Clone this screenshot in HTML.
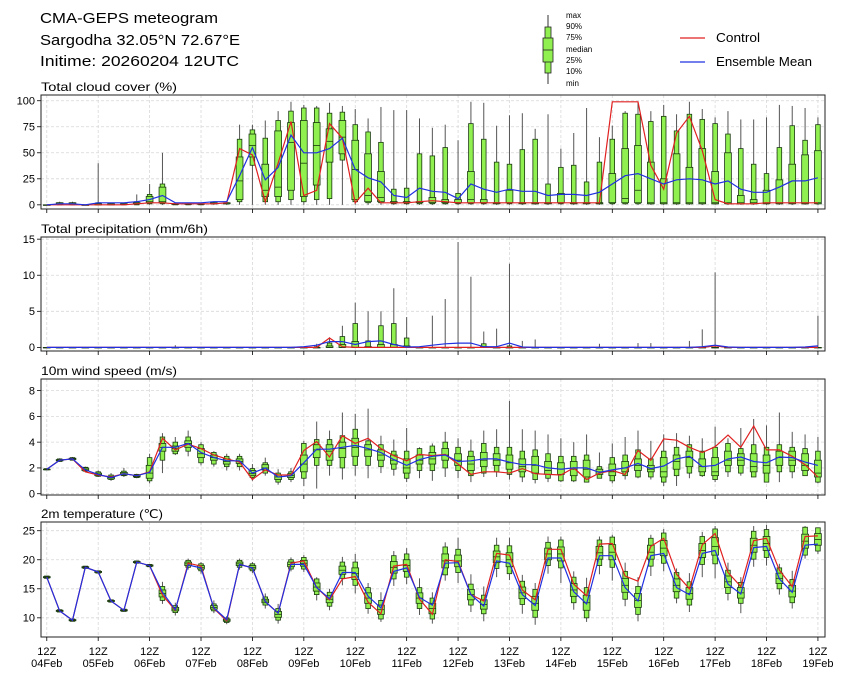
<!DOCTYPE html>
<html><head><meta charset="utf-8"><title>CMA-GEPS meteogram</title>
<style>
html,body{margin:0;padding:0;background:#fff;}
svg{display:block;font-family:"Liberation Sans","DejaVu Sans",sans-serif;}
</style></head>
<body>
<svg id="chart" width="845" height="681" viewBox="0 0 845 681" xmlns="http://www.w3.org/2000/svg">
  <g>
    <text x="40" y="23" font-size="15" fill="#000" textLength="178" lengthAdjust="spacingAndGlyphs">CMA-GEPS meteogram</text>
    <text x="40" y="45" font-size="15" fill="#000" textLength="200" lengthAdjust="spacingAndGlyphs">Sargodha 32.05°N 72.67°E</text>
    <text x="40" y="66" font-size="15" fill="#000" textLength="199" lengthAdjust="spacingAndGlyphs">Initime: 20260204 12UTC</text>
  </g>
  <g>
    <line x1="548" y1="15" x2="548" y2="84" stroke="#333" stroke-width="1"/>
    <rect x="545" y="27" width="6" height="46" fill="#90f050" stroke="#222" stroke-width="0.8"/>
    <rect x="543" y="38" width="10" height="24" fill="#90f050" stroke="#222" stroke-width="0.8"/>
    <line x1="543" y1="50" x2="553" y2="50" stroke="#222" stroke-width="0.8"/>
    <g font-size="8" fill="#000">
      <text x="566" y="18">max</text>
      <text x="566" y="29">90%</text>
      <text x="566" y="40">75%</text>
      <text x="566" y="52">median</text>
      <text x="566" y="63">25%</text>
      <text x="566" y="74">10%</text>
      <text x="566" y="86">min</text>
    </g>
  </g>
  <g>
    <g>
      <line x1="680" y1="38" x2="705" y2="38" stroke="#e02020" stroke-width="1.3"/>
      <text x="716" y="42" font-size="12.5" textLength="44" lengthAdjust="spacingAndGlyphs">Control</text>
    </g>
    <g>
      <line x1="680" y1="62" x2="705" y2="62" stroke="#2030e0" stroke-width="1.3"/>
      <text x="716" y="66" font-size="12.5" textLength="96" lengthAdjust="spacingAndGlyphs">Ensemble Mean</text>
    </g>
  </g>
  <g id="panels"></g>
</svg>
<script>
// ---------- Data (index = 6-hourly step from 2026-02-04 12Z) ----------
const dayLabels = ["04Feb","05Feb","06Feb","07Feb","08Feb","09Feb","10Feb","11Feb","12Feb","13Feb","14Feb","15Feb","16Feb","17Feb","18Feb","19Feb"];

// Total cloud cover (%)
const cMn  = [0,0,0,0,0,0,0,0,0,0,0,0,0,0,0,0,0,0,0,0,0,0,0,0,0,0,0,0,0,0,0,0,0,0,0,0,0,0,0,0,0,0,0,0,0,0,0,0,0,0,0,0,0,0,0,0,0,0,0,0,0];
const cP10 = [0,0,0,0,0,0,0,0,1,1,0,0,0,1,1,3,38,3,3,5,3,5,6,43,3,2,2,1,1,1,1,1,1,1,1,1,1,1,1,1,1,1,1,1,1,1,1,1,1,1,1,1,1,1,1,1,1,1,1,1,1];
const cP25 = [0,1,1,0,0,0,1,1,2,2,1,1,1,1,1,5,46,8,8,14,8,19,41,49,5,3,3,2,2,2,2,2,2,2,2,1,2,1,1,1,2,1,1,1,2,2,2,1,1,1,1,1,1,1,1,1,1,1,1,1,1];
const cMed = [0,1,1,0,0,1,1,1,3,3,1,1,1,1,1,23,57,14,17,60,40,57,61,65,34,9,7,3,3,3,2,2,2,5,2,2,2,2,2,2,2,2,2,2,2,6,14,2,2,2,2,2,2,2,2,2,2,2,2,2,2];
const cP75 = [0,2,2,0,1,1,1,2,8,17,1,1,1,2,2,46,68,39,71,79,81,79,73,81,62,49,32,3,3,3,7,5,5,32,5,2,14,2,2,2,11,2,2,2,30,54,57,41,25,49,36,54,32,50,9,5,14,24,39,48,52];
const cP90 = [0,2,2,0,2,1,1,3,10,20,1,1,1,2,2,63,72,64,81,90,93,93,88,89,77,70,60,15,16,49,47,55,11,78,63,41,39,53,63,20,36,38,22,41,63,88,87,80,85,71,87,82,78,68,54,39,30,55,76,62,77];
const cMx  = [0,3,3,0,40,1,1,10,20,50,2,2,2,3,3,77,77,81,90,99,96,95,98,95,92,83,94,91,91,83,74,77,62,99,98,76,86,88,73,87,54,69,93,65,76,90,99,90,96,87,99,92,84,90,82,82,84,96,95,93,84];
const cEns = [0,1,1,0,2,2,2,3,5,9,2,2,2,3,3,28,55,24,36,67,50,50,54,64,34,26,22,9,7,16,13,12,6,20,15,12,15,13,13,9,10,10,9,12,20,28,30,25,20,24,25,24,20,23,15,12,12,17,23,23,26];
const cCtl = [0,0,0,0,0,0,0,1,2,2,1,1,1,1,2,54,48,3,40,80,9,14,78,64,2,16,2,2,2,3,4,3,2,2,2,2,2,2,2,2,2,2,2,2,99,99,99,38,15,69,85,52,5,1,1,1,2,2,2,2,2];

// Total precipitation (mm/6h)
const pMn  = [0,0,0,0,0,0,0,0,0,0,0,0,0,0,0,0,0,0,0,0,0,0,0,0,0,0,0,0,0,0,0,0,0,0,0,0,0,0,0,0,0,0,0,0,0,0,0,0,0,0,0,0,0,0,0,0,0,0,0,0,0];
const pP10 = [0,0,0,0,0,0,0,0,0,0,0,0,0,0,0,0,0,0,0,0,0,0,0,0,0,0,0,0,0,0,0,0,0,0,0,0,0,0,0,0,0,0,0,0,0,0,0,0,0,0,0,0,0,0,0,0,0,0,0,0,0];
const pP25 = [0,0,0,0,0,0,0,0,0,0,0,0,0,0,0,0,0,0,0,0,0,0,0,0,0,0,0,0,0,0,0,0,0,0,0,0,0,0,0,0,0,0,0,0,0,0,0,0,0,0,0,0,0,0,0,0,0,0,0,0,0];
const pMed = [0,0,0,0,0,0,0,0,0,0,0,0,0,0,0,0,0,0,0,0,0,0,0,0,0,0,0,0,0,0,0,0,0,0,0,0,0,0,0,0,0,0,0,0,0,0,0,0,0,0,0,0,0,0,0,0,0,0,0,0,0];
const pP75 = [0,0,0,0,0,0,0,0,0,0,0,0,0,0,0,0,0,0,0,0,0,0,0.2,0.4,0.8,0.1,0.4,0.4,0.2,0,0,0,0,0,0.1,0,0,0,0,0,0,0,0,0,0,0,0,0,0,0,0,0,0,0,0,0,0,0,0,0,0];
const pP90 = [0,0,0,0,0,0,0,0,0,0,0,0,0,0,0,0,0,0,0,0,0,0.1,0.6,1.5,3.3,0.9,3.0,3.3,1.3,0,0,0,0,0,0.5,0,0.2,0,0,0,0,0,0,0,0,0,0,0,0,0,0,0,0,0,0,0,0,0,0,0,0];
const pMx  = [0,0,0,0,0,0,0,0,0,0,0.3,0,0,0,0,0,0,0,0,0,0,0.5,1.4,3.0,6.2,5.0,5.0,8.2,4.2,0,4.4,6.7,14.6,9.8,2.2,2.6,11.6,0.9,1.1,0,0,0,0,0.5,0,0,0.6,0.6,0,0,0.9,2.5,10.4,0,0,0,0,0,0,0,4.4];
const pEns = [0,0,0,0,0,0,0,0,0,0,0,0,0,0,0,0,0,0,0,0,0.1,0.3,0.8,0.8,0.4,0.8,0.9,0.4,0.05,0.1,0.3,0.5,0.6,0.6,0.1,0.1,0.6,0.05,0,0,0,0,0,0,0,0,0,0,0,0,0,0.1,0.3,0.05,0,0,0,0,0,0.05,0.2];
const pCtl = [0,0,0,0,0,0,0,0,0,0,0,0,0,0,0,0,0,0,0,0,0,0,1.3,0.1,0,0,0,0,0,0,0,0,0,0,0,0,0,0,0,0,0,0,0,0,0,0,0,0,0,0,0,0,0.2,0,0,0,0,0,0,0,0];

// 10m wind speed (m/s)
const wMn  = [1.85,2.5,2.6,1.7,1.3,1.0,1.3,1.2,0.8,1.6,3.0,2.9,2.2,2.1,1.8,1.8,1.0,1.4,0.7,0.9,0.6,0.4,1.4,1.1,1.4,1.2,1.6,1.4,0.9,1.2,1.0,1.3,1.2,0.9,1.3,1.3,1.1,0.9,0.8,0.9,0.9,0.9,1.3,1.5,0.8,1.1,1.2,1.1,0.6,0.6,1.2,1.3,0.9,1.3,1.4,1.3,1.0,0.9,1.2,1.4,0.8];
const wP10 = [1.85,2.5,2.6,1.75,1.35,1.1,1.4,1.25,1.0,2.6,3.1,3.3,2.4,2.3,2.1,2.1,1.25,1.6,0.9,1.1,1.2,2.2,2.2,2.0,2.2,2.2,2.1,1.9,1.2,1.8,1.8,2.0,1.8,1.4,1.6,1.7,1.5,1.3,1.1,1.2,1.0,1.0,0.9,1.2,1.0,1.4,1.3,1.3,0.9,1.4,1.6,1.4,1.1,1.7,1.6,1.3,0.9,1.7,1.7,1.4,0.9];
const wP25 = [1.9,2.55,2.65,1.8,1.4,1.15,1.45,1.3,1.2,3.3,3.3,3.6,2.8,2.6,2.3,2.35,1.4,1.85,1.1,1.25,1.7,2.8,2.6,2.8,2.9,2.9,2.6,2.3,1.6,2.3,2.3,2.6,2.2,1.8,2.1,2.2,1.9,1.7,1.6,1.5,1.5,1.4,1.3,1.5,1.4,1.7,1.8,1.7,1.3,1.9,2.1,1.7,1.4,2.2,2.2,1.7,1.6,2.2,2.2,1.8,1.3];
const wMed = [1.9,2.6,2.7,1.9,1.5,1.25,1.55,1.35,1.6,3.6,3.5,3.9,3.1,2.8,2.5,2.5,1.55,2.0,1.3,1.4,2.3,3.4,3.3,3.5,3.6,3.4,3.0,2.6,2.0,2.6,2.7,3.0,2.6,2.3,2.6,2.6,2.4,2.1,2.2,1.8,1.9,1.9,1.9,1.7,1.7,2.0,2.2,1.9,1.7,2.5,2.8,2.1,1.7,2.6,2.6,2.1,2.2,2.8,2.6,2.2,1.6];
const wP75 = [1.9,2.65,2.75,2.0,1.6,1.35,1.65,1.45,2.2,3.9,3.7,4.1,3.5,3.0,2.7,2.7,1.8,2.25,1.45,1.55,3.0,3.8,3.8,4.0,4.3,3.8,3.4,3.0,2.7,3.0,3.2,3.5,3.1,2.9,3.2,3.1,3.0,2.7,2.9,2.5,2.4,2.5,2.6,1.9,2.3,2.5,2.7,2.2,2.8,3.0,3.3,2.7,2.8,3.3,3.1,3.1,3.0,3.3,3.3,3.1,2.6];
const wP90 = [1.95,2.7,2.8,2.05,1.7,1.45,1.75,1.5,2.8,4.4,4.0,4.4,3.8,3.2,2.9,2.9,1.95,2.4,1.6,1.7,3.9,4.2,4.2,4.5,5.0,4.1,3.8,3.3,3.3,3.5,3.7,4.0,3.6,3.3,3.9,3.6,3.6,3.3,3.4,3.1,2.9,2.9,3.0,2.1,2.8,3.0,3.4,2.7,3.3,3.6,3.8,3.3,3.6,3.9,3.5,3.8,3.6,3.8,3.6,3.5,3.3];
const wMx  = [1.95,2.75,2.85,2.1,1.8,1.6,2.0,1.55,3.1,4.7,4.4,4.9,4.0,3.3,3.1,3.1,2.3,2.8,1.9,2.0,4.1,5.6,4.9,6.3,6.2,6.6,4.5,4.2,5.1,3.6,3.9,4.8,4.3,4.2,4.9,5.0,7.2,5.0,4.9,4.6,4.3,4.0,4.6,3.2,3.9,4.4,4.9,4.1,4.6,4.7,4.5,4.3,5.2,4.3,5.1,5.8,5.3,6.3,4.8,4.6,4.4];
const wEns = [1.9,2.6,2.7,1.85,1.5,1.25,1.55,1.4,1.65,3.6,3.6,3.9,3.2,2.8,2.55,2.55,1.6,2.0,1.3,1.4,2.4,3.45,3.45,3.6,3.75,3.5,3.2,2.65,2.2,2.65,2.9,3.0,2.5,2.55,2.7,2.7,2.45,2.25,2.25,2.0,1.9,2.0,2.0,1.65,1.85,2.0,2.35,1.95,2.15,2.7,2.9,2.1,2.2,2.7,2.85,2.5,2.4,2.85,2.8,2.45,2.2];
const wCtl = [1.9,2.6,2.7,1.7,1.45,1.3,1.55,1.4,1.7,4.3,3.4,3.85,3.5,3.0,2.7,2.45,1.1,1.85,1.45,1.45,3.35,4.05,2.85,4.5,3.9,4.3,3.5,2.95,2.55,3.05,2.95,3.05,2.3,1.5,1.7,1.7,1.6,1.95,1.55,1.5,1.45,2.0,1.1,1.6,1.8,1.5,3.35,2.6,4.25,4.15,3.6,3.2,3.65,4.55,3.6,5.25,3.4,3.4,2.9,2.25,1.3];

// 2m temperature (°C)
const tMn  = [16.8,11.0,9.4,18.5,17.7,12.7,11.1,19.4,18.8,12.4,10.4,18.3,17.6,10.8,8.9,18.3,17.7,11.6,9.0,18.0,17.9,13.0,11.3,15.6,14.2,10.7,9.3,15.5,15.8,10.5,9.0,16.4,16.0,11.0,9.4,17.0,16.5,10.7,8.8,17.6,16.0,11.4,9.3,17.5,16.4,12.0,9.4,17.2,18.0,12.5,11.0,17.0,16.8,13.0,10.8,18.8,19.0,14.0,11.6,20.2,21.0];
const tP10 = [16.8,11.0,9.4,18.5,17.7,12.7,11.1,19.4,18.8,13.0,10.9,18.7,18.1,11.2,9.2,18.7,18.1,12.2,9.6,18.4,18.4,14.0,12.0,16.8,15.6,11.6,9.8,16.7,17.0,11.6,9.8,17.4,17.8,12.2,10.7,18.5,17.6,12.3,10.1,19.0,18.6,12.6,10.0,19.0,18.7,13.2,10.6,18.9,19.4,13.4,12.2,19.2,19.3,14.2,12.5,20.1,20.4,15.0,12.6,20.8,21.5];
const tP25 = [16.9,11.1,9.5,18.6,17.8,12.8,11.2,19.5,18.9,13.6,11.2,19.0,18.4,11.5,9.4,19.0,18.4,12.6,10.1,18.8,18.9,14.6,12.6,17.5,16.6,12.5,10.6,17.7,18.0,12.5,10.7,18.6,18.8,13.1,11.5,19.5,18.8,13.3,11.3,20.0,19.8,13.7,11.3,20.1,20.0,14.4,11.8,20.1,20.7,14.5,13.2,20.4,20.8,15.2,13.4,21.3,21.6,15.9,13.6,22.0,22.5];
const tMed = [17.0,11.2,9.6,18.7,17.9,12.9,11.3,19.6,19.0,14.2,11.5,19.3,18.7,11.8,9.6,19.3,18.7,12.9,10.6,19.2,19.4,15.3,13.2,18.2,17.6,13.4,11.4,18.7,19.0,13.4,11.6,19.8,19.8,14.0,12.3,20.5,20.0,14.3,12.5,21.0,21.0,14.8,12.6,21.2,21.3,15.6,13.0,21.3,22.0,15.6,14.2,21.6,22.3,16.2,14.3,22.5,22.8,16.8,14.6,23.2,23.5];
const tP75 = [17.1,11.3,9.7,18.8,18.0,13.0,11.4,19.7,19.1,14.8,11.8,19.6,19.0,12.1,9.8,19.6,19.0,13.2,11.1,19.6,19.9,16.0,13.8,18.9,18.6,14.3,12.2,19.7,20.0,14.3,12.5,21.0,20.8,14.9,13.1,21.5,21.2,15.3,13.7,22.0,22.2,15.9,13.9,22.3,22.6,16.8,14.2,22.5,23.3,16.7,15.2,22.8,23.8,17.2,15.2,23.7,24.0,17.7,15.6,24.4,24.5];
const tP90 = [17.2,11.4,9.8,18.9,18.1,13.1,11.5,19.8,19.2,15.4,12.1,19.9,19.3,12.4,10.0,19.9,19.3,13.6,11.6,20.0,20.4,16.7,14.4,19.6,19.6,15.2,13.0,20.7,21.0,15.2,13.4,22.2,21.8,15.8,13.9,22.5,22.4,16.3,14.9,23.0,23.4,17.0,15.2,23.4,23.9,18.0,15.4,23.7,24.6,17.8,16.2,24.0,25.3,18.2,16.1,24.9,25.2,18.6,16.6,25.6,25.5];
const tMx  = [17.2,11.4,9.8,18.9,18.1,13.1,11.5,19.8,19.2,16.2,12.6,20.2,19.6,13.0,10.3,20.2,19.6,14.2,12.4,20.4,20.8,17.0,15.0,20.5,21.0,16.0,14.4,21.5,22.0,16.8,14.4,23.0,23.8,17.5,15.4,23.8,23.8,17.4,16.0,24.0,24.0,18.0,16.9,24.0,24.3,19.5,17.0,24.3,25.3,18.5,17.7,24.8,25.8,19.5,17.0,25.8,26.0,19.3,18.1,25.8,25.5];
const tEns = [17.0,11.2,9.6,18.7,17.9,12.9,11.3,19.6,19.0,14.4,11.4,19.1,18.6,11.7,9.7,19.2,18.6,12.8,10.8,19.2,19.2,15.2,13.3,17.8,17.8,13.7,11.7,18.0,18.6,13.5,12.2,19.4,19.5,14.0,12.0,19.8,19.4,14.0,12.1,20.3,20.3,14.5,12.4,20.7,20.7,15.2,12.9,20.7,21.1,15.2,14.0,21.1,21.6,15.8,14.1,22.1,22.3,16.7,14.4,22.5,22.7];
const tCtl = [17.0,11.2,9.6,18.7,17.9,12.9,11.3,19.6,19.0,13.9,11.3,19.4,18.9,11.6,9.5,19.2,18.6,12.8,10.8,19.4,19.8,15.2,13.1,16.7,17.1,12.7,10.7,18.9,19.2,13.2,10.6,20.0,19.7,14.0,12.9,21.1,20.8,14.8,13.1,21.8,21.8,15.8,13.8,22.7,22.8,17.2,16.3,22.3,23.7,17.5,15.0,22.6,24.5,17.8,15.4,23.3,23.7,18.2,15.4,24.0,24.1];

const cloudTicks = [0,25,50,75,100];
const precipTicks = [0,5,10,15];
const windTicks = [0,2,4,6,8];
const tempTicks = [10,15,20,25];

// ---------- Rendering ----------
const NS = "http://www.w3.org/2000/svg";
const root = document.getElementById("panels");
const PX_LEFT = 41, PX_RIGHT = 825;
const XMIN = -0.45, XMAX = 60.55;
function xScale(i){ return PX_LEFT + (i - XMIN) / (XMAX - XMIN) * (PX_RIGHT - PX_LEFT); }
function mk(tag, attrs, parent){
  const e = document.createElementNS(NS, tag);
  for (const k in attrs) e.setAttribute(k, attrs[k]);
  if (parent) parent.appendChild(e);
  return e;
}

const panels = [
  {key:"cloud", title:"Total cloud cover (%)", tlen:136, top:95, bottom:209, vmin:-4, vmax:105.5, ticks:cloudTicks,
   mn:cMn,p10:cP10,p25:cP25,med:cMed,p75:cP75,p90:cP90,mx:cMx,ens:cEns,ctl:cCtl},
  {key:"precip", title:"Total precipitation (mm/6h)", tlen:167, top:237, bottom:351, vmin:-0.5, vmax:15.3, ticks:precipTicks,
   mn:pMn,p10:pP10,p25:pP25,med:pMed,p75:pP75,p90:pP90,mx:pMx,ens:pEns,ctl:pCtl},
  {key:"wind", title:"10m wind speed (m/s)", tlen:136, top:379, bottom:495, vmin:-0.1, vmax:8.9, ticks:windTicks,
   mn:wMn,p10:wP10,p25:wP25,med:wMed,p75:wP75,p90:wP90,mx:wMx,ens:wEns,ctl:wCtl},
  {key:"temp", title:"2m temperature (\u2103)", tlen:122, top:522, bottom:637, vmin:6.7, vmax:26.5, ticks:tempTicks,
   mn:tMn,p10:tP10,p25:tP25,med:tMed,p75:tP75,p90:tP90,mx:tMx,ens:tEns,ctl:tCtl}
];

panels.forEach((p, pi) => {
  const g = mk("g", {}, root);
  
  
  const yScale = v => p.bottom - (v - p.vmin) / (p.vmax - p.vmin) * (p.bottom - p.top);

  const tt = mk("text", {x:41, y:p.top - 4, "font-size":12, fill:"#000", textLength:p.tlen, lengthAdjust:"spacingAndGlyphs"}, g);
  tt.textContent = p.title;
  
  

  // grid
  const grid = mk("g", {stroke:"#d8d8d8", "stroke-width":0.8, "stroke-dasharray":"3,2"}, g);
  
  
  for (let d = 0; d < dayLabels.length; d++) {
    const x = xScale(d * 4);
    mk("line", {x1:x, y1:p.top, x2:x, y2:p.bottom}, grid);
  }
  p.ticks.forEach(t => {
    const y = yScale(t);
    mk("line", {x1:PX_LEFT, y1:y, x2:PX_RIGHT, y2:y}, grid);
  });

  // y ticks + labels
  const ya = mk("g", {}, g);
  
  
  p.ticks.forEach(t => {
    const y = yScale(t);
    mk("line", {x1:PX_LEFT - 4, y1:y, x2:PX_LEFT, y2:y, stroke:"#000", "stroke-width":0.8}, ya);
    const lb = mk("text", {x:PX_LEFT - 6, y:y + 3.8, "font-size":11, "text-anchor":"end", fill:"#000"}, ya);
    lb.textContent = t;
    
    
  });

  // boxes
  const bx = mk("g", {}, g);
  
  
  for (let i = 0; i < p.med.length; i++) {
    if (p.mx[i] === undefined) continue;
    const x = xScale(i);
    const b = mk("g", {}, bx);
    
    
    mk("line", {x1:x, y1:yScale(p.mx[i]), x2:x, y2:yScale(p.mn[i]), stroke:"#555", "stroke-width":1}, b);
    const y90 = yScale(p.p90[i]), y10 = yScale(p.p10[i]);
    if (y10 - y90 > 0.3) mk("rect", {x:x - 2.3, y:y90, width:4.6, height:y10 - y90, fill:"#90f050", stroke:"#1a3a10", "stroke-width":0.8}, b);
    const y75 = yScale(p.p75[i]), y25 = yScale(p.p25[i]);
    mk("rect", {x:x - 3.4, y:y75, width:6.8, height:Math.max(0.6, y25 - y75), fill:"#90f050", stroke:"#1a3a10", "stroke-width":0.8}, b);
    const ym = yScale(p.med[i]);
    mk("line", {x1:x - 3.4, y1:ym, x2:x + 3.4, y2:ym, stroke:"#1a3a10", "stroke-width":0.8}, b);
  }

  // lines
  const pts = arr => arr.map((v, i) => xScale(i).toFixed(1) + "," + yScale(v).toFixed(1)).join(" ");
  const lc = mk("polyline", {points:pts(p.ctl), fill:"none", stroke:"#e02020", "stroke-width":1.2}, g);
  
  
  const le = mk("polyline", {points:pts(p.ens), fill:"none", stroke:"#2030e0", "stroke-width":1.2}, g);
  
  

  // frame
  const fr = mk("rect", {x:PX_LEFT, y:p.top, width:PX_RIGHT - PX_LEFT, height:p.bottom - p.top, fill:"none", stroke:"#222", "stroke-width":1}, g);
  
  

  // x ticks
  const xa = mk("g", {}, g);
  
  
  for (let d = 0; d < dayLabels.length; d++) {
    const x = xScale(d * 4);
    mk("line", {x1:x, y1:p.bottom, x2:x, y2:p.bottom + 4, stroke:"#000", "stroke-width":0.8}, xa);
    if (pi === panels.length - 1) {
      const t1 = mk("text", {x:x, y:p.bottom + 18, "font-size":11, "text-anchor":"middle", fill:"#000"}, xa);
      t1.textContent = "12Z";
      
      
      const t2 = mk("text", {x:x, y:p.bottom + 30, "font-size":11, "text-anchor":"middle", fill:"#000"}, xa);
      t2.textContent = dayLabels[d];
      
      
    }
  }
});
</script>
</body></html>
